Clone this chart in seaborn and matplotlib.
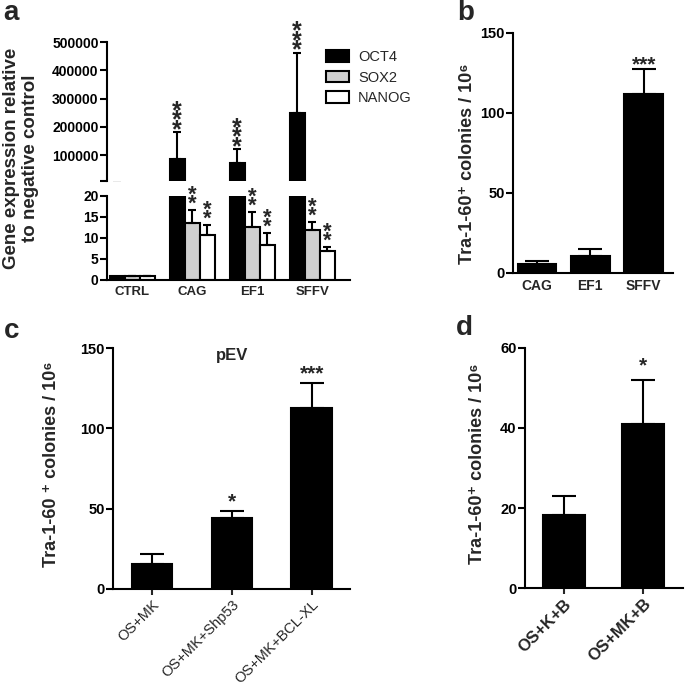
# four bar panels (a-d) rebuilt with seaborn + matplotlib
import numpy as np
import pandas as pd
import seaborn as sns
import matplotlib.pyplot as plt
from matplotlib.patches import Patch

# ---- data ----
# panel a: gene expression (broken y axis)
a_groups = ["CTRL", "CAG", "EF1", "SFFV"]
a_genes = ["OCT4", "SOX2", "NANOG"]
oct4_mean = [1, 85000, 71000, 247000]
oct4_err = [0, 95000, 49000, 215000]
sox2_mean = [1, 13.6, 12.7, 11.9]
sox2_err = [0, 3.1, 3.4, 1.8]
nanog_mean = [1, 10.7, 8.3, 7.0]
nanog_err = [0, 2.4, 2.8, 0.8]
oct4_stars = ["", "***", "***", "***"]
sox2_stars = ["", "**", "**", "**"]
nanog_stars = ["", "**", "**", "**"]

# panel b: promoters
b_cats = ["CAG", "EF1", "SFFV"]
b_mean = [5.5, 10.8, 112]
b_err = [2.0, 4.4, 15.7]
b_stars = ["", "", "***"]

# panel c: pEV
c_cats = ["OS+MK", "OS+MK+Shp53", "OS+MK+BCL-XL"]
c_mean = [15.6, 44.2, 112.5]
c_err = [6.3, 4.1, 15.5]
c_stars = ["", "*", "***"]

# panel d
d_cats = ["OS+K+B", "OS+MK+B"]
d_mean = [18.3, 41.1]
d_err = [4.8, 11.0]
d_stars = ["", "*"]

tra_label = "Tra-1-60\u207a colonies / 10\u2076"

sns.set_style("ticks")
plt.rcParams['font.family'] = ['Liberation Sans', 'DejaVu Sans']
plt.rcParams['font.weight'] = 'bold'
plt.rcParams['axes.labelweight'] = 'bold'

fig = plt.figure(figsize=(6.85, 6.85), dpi=100)


def px_rect(x0, y0, x1, y1):
    # pixel box (top-left origin) -> figure fraction rect
    return [x0 / 685, 1 - y1 / 685, (x1 - x0) / 685, (y1 - y0) / 685]


def style_axes(ax, ysize=10):
    for s in ['top', 'right']:
        ax.spines[s].set_visible(False)
    for s in ['left', 'bottom']:
        ax.spines[s].set_linewidth(1.5)
        ax.spines[s].set_color('black')
    ax.tick_params(axis='y', width=1.5, length=5, labelsize=ysize,
                   colors='black', pad=1)
    ax.set_xlabel('')
    ax.set_ylabel('')
    ax.set_facecolor('none')


def add_errbars(ax, container, means, errs, capsize):
    xs = [p.get_x() + p.get_width() / 2 for p in container.patches]
    ax.errorbar(xs, means, yerr=[np.zeros(len(errs)), errs], fmt='none',
                ecolor='black', elinewidth=1.5, capsize=capsize,
                capthick=1.5, zorder=1)
    return xs


def add_stars(ax, xs, means, errs, stars, size, dy):
    # horizontal row of asterisks above the error cap
    for x, m, e, s in zip(xs, means, errs, stars):
        if s:
            ax.annotate(s, (x, m + e), xytext=(0, dy),
                        textcoords='offset points', ha='center',
                        va='baseline', fontsize=size, fontweight='bold',
                        annotation_clip=False)


def add_star_stack(ax, xs, means, errs, stars, size, dy):
    # asterisks stacked vertically, one per line, as a single text
    for x, m, e, s in zip(xs, means, errs, stars):
        if s:
            ax.annotate("\n".join(s), (x, m + e), xytext=(0, dy),
                        textcoords='offset points', ha='center',
                        va='bottom', fontsize=size, fontweight='bold',
                        linespacing=0.24, annotation_clip=False)


# ---------------- panel a ----------------
a_df = pd.DataFrame({"group": a_groups * 3,
                     "gene": np.repeat(a_genes, len(a_groups)),
                     "value": oct4_mean + sox2_mean + nanog_mean})
a_colors = {"OCT4": "black", "SOX2": "#cfcfcf", "NANOG": "white"}

ax_top = fig.add_axes(px_rect(107, 42, 350, 181))
ax_bot = fig.add_axes(px_rect(107, 196, 350, 280))
for ax in (ax_top, ax_bot):
    sns.barplot(data=a_df, x="group", y="value", hue="gene",
                hue_order=a_genes, palette=a_colors, width=0.75,
                edgecolor="black", linewidth=1.5, errorbar=None,
                saturation=1, legend=False, ax=ax)
    style_axes(ax)
    ax.set_xlim(-0.42, 3.63)

ax_top.set_ylim(8000, 500000)
ax_top.set_yticks([8000, 100000, 200000, 300000, 400000, 500000])
ax_top.set_yticklabels(["", "100000", "200000", "300000", "400000", "500000"])
ax_top.spines['bottom'].set_visible(False)
ax_top.tick_params(axis='x', bottom=False, labelbottom=False)
xs_oct = add_errbars(ax_top, ax_top.containers[0], oct4_mean, oct4_err, 3)
add_star_stack(ax_top, xs_oct, oct4_mean, oct4_err, oct4_stars, 18, -7)

ax_bot.set_ylim(0, 20)
ax_bot.set_yticks([0, 5, 10, 15, 20])
ax_bot.tick_params(axis='x', length=0, labelsize=9.5, pad=4)
xs_sox = add_errbars(ax_bot, ax_bot.containers[1], sox2_mean, sox2_err, 3)
xs_nan = add_errbars(ax_bot, ax_bot.containers[2], nanog_mean, nanog_err, 3)
add_star_stack(ax_bot, xs_sox, sox2_mean, sox2_err, sox2_stars, 16, -3.2)
add_star_stack(ax_bot, xs_nan, nanog_mean, nanog_err, nanog_stars, 16, -3.2)

handles = [Patch(facecolor=a_colors[g], edgecolor='black', linewidth=1.5)
           for g in a_genes]
fig.legend(handles, a_genes, loc='upper left',
           bbox_to_anchor=(326 / 685, 1 - 50 / 685), frameon=False,
           prop={'size': 10.5, 'weight': 'normal'}, handlelength=1.6,
           handleheight=0.85, labelspacing=0.45, handletextpad=0.6,
           borderaxespad=0, borderpad=0)

fig.text(21 / 685, 1 - 158 / 685, "Gene expression relative\nto negative control",
         rotation=90, ha='center', va='center', fontsize=13.5,
         fontweight='bold', multialignment='center', linespacing=1.2)


# ---------------- simple panels b, c, d ----------------
def simple_panel(rect, cats, means, errs, ymax, yticks, xlim, width):
    ax = fig.add_axes(rect)
    df = pd.DataFrame({"cat": cats, "val": means})
    sns.barplot(data=df, x="cat", y="val", color="black", width=width,
                edgecolor="black", linewidth=1.5, errorbar=None,
                saturation=1, ax=ax)
    style_axes(ax, ysize=10.5)
    ax.set_ylim(0, ymax)
    ax.set_yticks(yticks)
    ax.set_xlim(*xlim)
    xs = add_errbars(ax, ax.containers[0], means, errs, 8.3)
    return ax, xs


# panel b
ax_b, xs_b = simple_panel(px_rect(513, 33, 673, 273), b_cats, b_mean, b_err,
                          150, [0, 50, 100, 150], (-0.45, 2.55), 0.73)
ax_b.tick_params(axis='x', length=0, labelsize=10, pad=4)
add_stars(ax_b, xs_b, b_mean, b_err, b_stars, 15, -1.5)
fig.text(467 / 685, 1 - 164 / 685, tra_label, rotation=90, ha='center',
         va='center', fontsize=13, fontweight='bold')

# panel c
ax_c, xs_c = simple_panel(px_rect(113, 348, 350, 589), c_cats, c_mean, c_err,
                          150, [0, 50, 100, 150], (-0.49, 2.48), 0.51)
ax_c.tick_params(axis='x', length=4, width=1.5, pad=2)
ax_c.set_xticks(range(len(c_cats)))
ax_c.set_xticklabels(c_cats, rotation=45, ha='right', rotation_mode='anchor',
                     fontsize=10.5, fontweight='normal')
add_stars(ax_c, xs_c, c_mean, c_err, c_stars, 15, 3)
ax_c.text(1, 150, "pEV", ha='center', va='top', fontsize=12,
          fontweight='bold')
fig.text(52 / 685, 1 - 464 / 685, "Tra-1-60 \u207a colonies / 10\u2076",
         rotation=90, ha='center', va='center', fontsize=13,
         fontweight='bold')

# panel d
ax_d, xs_d = simple_panel(px_rect(525, 348, 683, 588), d_cats, d_mean, d_err,
                          60, [0, 20, 40, 60], (-0.49, 1.5), 0.53)
ax_d.tick_params(axis='x', length=4, width=1.5, pad=2)
ax_d.set_xticks(range(len(d_cats)))
ax_d.set_xticklabels(d_cats, rotation=45, ha='right', rotation_mode='anchor',
                     fontsize=12, fontweight='bold')
add_stars(ax_d, xs_d, d_mean, d_err, d_stars, 15, 6)
fig.text(477 / 685, 1 - 464 / 685, tra_label, rotation=90, ha='center',
         va='center', fontsize=13, fontweight='bold')

# panel letters
for letter, x, y in [("a", 3, 20), ("b", 457, 20), ("c", 4, 338),
                     ("d", 456, 335)]:
    fig.text(x / 685, 1 - y / 685, letter, fontsize=20, fontweight='bold',
             va='baseline')

fig.savefig("out.png", dpi=100)
